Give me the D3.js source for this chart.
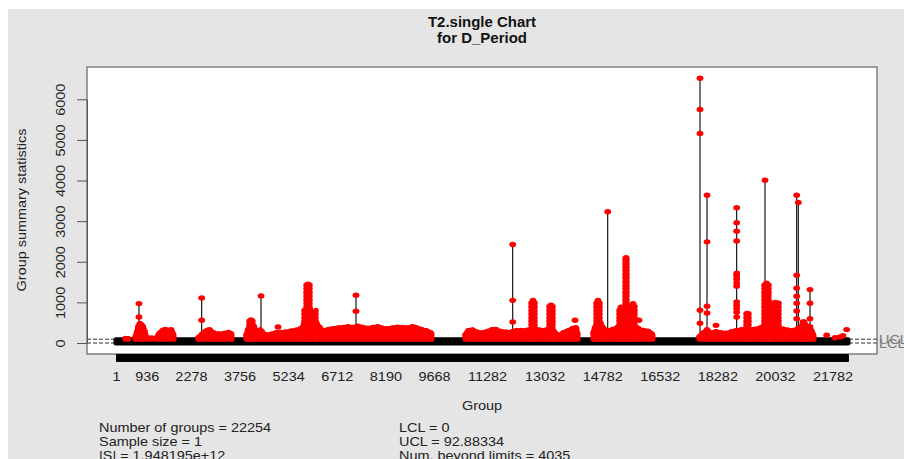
<!DOCTYPE html>
<html><head><meta charset="utf-8">
<script src="https://cdn.jsdelivr.net/npm/d3@7"></script>
<style>
body{margin:0;background:#fff}
svg{display:block}
text{font-family:"Liberation Sans",Arial,Helvetica,sans-serif}
</style>
</head><body>
<svg id="chart" width="904" height="459"></svg>
<script>
// ---------------- data ----------------
const nGroups = 22254;
const ucl = 92.88334;
const lcl = 0;
const titleLines = ["T2.single Chart", "for D_Period"];
const xTickLabels = [1, 936, 2278, 3756, 5234, 6712, 8190, 9668, 11282, 13032, 14782, 16532, 18282, 20032, 21782];
const yTicks = [0, 1000, 2000, 3000, 4000, 5000, 6000];
const statsLeft = ["Number of groups = 22254", "Sample size = 1", "|S| = 1.948195e+12"];
const statsRight = ["LCL = 0", "UCL = 92.88334", "Num. beyond limits = 4035"];

// in-control statistics (black): group range and value band
const inControlGroups = [1, 22254];
const inControlLow = [0, 0];
const inControlHigh = [80, 80];

// upper envelope of dense out-of-control runs (null = gap)
const envGroups = [280, 390, null,
  579, 639, 700, 761, 822, 913, null,
  1004, 1095, null,
  1217, 1308, 1399, 1490, 1582, 1673, 1764, null,
  2494, 2585, 2707, 2828, 2950, 3102, 3254, 3406, 3527, null,
  3953, 4014, 4105, 4196, 4287, 4378, 4500, 4622, 4774, 4926, 5078, 5230, 5382, 5534, 5655, 5747, 5838, 5929, 6020, 6111, 6203, 6324, 6446, 6598, 6750, 6902, 7054, 7206, 7358, 7510, 7662, 7814, 7966, 8118, 8270, 8422, 8574, 8726, 8878, 9030, 9182, 9334, 9486, 9607, null,
  10611, 10702, 10823, 10975, 11127, 11279, 11431, 11523, 11644, 11796, 11948, 12100, 12252, 12404, 12556, 12708, 12860, 13012, 13164, 13286, 13407, null,
  13468, 13590, 13742, 13864, 13985, 14046, null,
  14502, 14593, 14715, 14836, 14958, 15079, 15201, 15323, 15444, 15566, 15687, 15809, 15930, 16082, 16204, 16325, null,
  17724, 17846, 17967, 18089, 18241, 18393, 18545, 18697, 18849, 19001, 19153, 19305, 19457, 19609, 19761, 19913, 20065, 20217, 20369, 20521, 20642, 20795, 20916, 21038, 21160, 21221];
const envValues = [110, 110, null,
  150, 300, 480, 470, 420, 200, null,
  120, 130, null,
  120, 230, 300, 340, 310, 330, 180, null,
  130, 200, 280, 330, 260, 220, 230, 260, 230, null,
  200, 350, 450, 420, 250, 330, 230, 200, 230, 260, 260, 280, 300, 330, 380, 550, 700, 700, 600, 480, 380, 300, 330, 350, 370, 380, 400, 380, 410, 380, 360, 380, 400, 360, 350, 370, 390, 380, 370, 400, 360, 320, 290, 230, null,
  200, 300, 320, 270, 250, 280, 330, 340, 300, 270, 260, 290, 310, 300, 330, 350, 320, 300, 350, 300, 220, null,
  180, 250, 300, 350, 380, 200, null,
  250, 450, 500, 350, 300, 330, 360, 450, 500, 500, 450, 400, 330, 300, 280, 200, null,
  150, 250, 300, 250, 280, 250, 240, 270, 300, 320, 350, 330, 340, 380, 450, 450, 420, 350, 330, 300, 320, 380, 400, 350, 300, 150];

// narrow columns of stacked out-of-control points
const stackFrom = [4044, 5777, 5716, 12617, 13164, 14593, 15292, 15475, 15657, 19153, 19700, 19944, 20855];
const stackTo   = [4166, 5899, 6081, 12739, 13286, 14715, 15414, 15536, 15779, 19244, 19852, 20156, 20977];
const stackTop  = [570, 1445, 820, 1050, 930, 1050, 880, 2100, 970, 730, 1470, 1000, 520];

// isolated spikes: group and the values of the points along them
const spikeGroups = [700, 2606, 4409, 7297, 12061, 14949, 17755, 17968, 18870, 19731, 20694, 20743, 21099];
const spikeDots = [
  [970, 640],
  [1110, 560],
  [1160],
  [1175, 780],
  [2425, 1050, 520],
  [3230],
  [6520, 5750, 5160, 805, 485, 150],
  [3640, 2490, 905, 740, 330],
  [3330, 2960, 2750, 2510, 1720, 1650, 1570, 1480, 1400, 1010, 930, 850, 760, 640],
  [4010],
  [3640, 1670, 1350, 1150, 980, 790, 600],
  [3460],
  [1315, 980, 600, 400]
];

// other isolated out-of-control points
const extraGroups = [4926, 13955, 15900, 18241, 20886, 21606, 21859, 22011, 22102, 22214];
const extraValues = [395, 560, 560, 435, 520, 190, 130, 150, 180, 330];

// ---------------- drawing ----------------
const W = 904, H = 459;
const box = {left: 87, right: 877, top: 67, bottom: 354};
const svg = d3.select("#chart");
const SX = 1.07; // horizontal stretch of the original raster text
const red = "#ff0000";

svg.append("rect").attr("width", W).attr("height", H).attr("fill", "#ffffff");
svg.append("rect").attr("x", 8).attr("y", 9).attr("width", W - 8).attr("height", H - 9).attr("fill", "#e5e5e5");

const x = d3.scaleLinear().domain([1, nGroups]).range([116, 848]);
const y = d3.scaleLinear().domain([0, 6000]).range([343.0, 99.3]);

function sText(g, str, tx, ty, opts) {
  const t = g.append("text").attr("transform", `translate(${tx},${ty}) scale(${SX},1)`).text(str);
  for (const k in opts) t.attr(k, opts[k]);
  return t;
}

// titles
titleLines.forEach((s, i) => sText(svg, s, 482, 27 + i * 16, {"text-anchor": "middle", "font-weight": "bold", "font-size": "14px", "fill": "#111"}));

// plot area
svg.append("rect").attr("x", box.left).attr("y", box.top).attr("width", box.right - box.left).attr("height", box.bottom - box.top)
  .attr("fill", "#ffffff");

const plot = svg.append("g");

// control limits (dashed)
[ucl, lcl].forEach(v => {
  plot.append("line").attr("x1", box.left).attr("x2", box.right).attr("y1", y(v)).attr("y2", y(v))
    .attr("stroke", "#333").attr("stroke-width", 1).attr("stroke-dasharray", "4,2");
});

// in-control band (black)
const inData = inControlGroups.map((g, i) => ({g, lo: inControlLow[i], hi: inControlHigh[i]}));
plot.append("path").datum(inData)
  .attr("d", d3.area().x(d => x(d.g)).y0(d => y(d.lo)).y1(d => y(d.hi)))
  .attr("fill", "#000").attr("stroke", "#000").attr("stroke-width", 5).attr("stroke-linejoin", "round");

// spike lines
spikeGroups.forEach((g, i) => {
  plot.append("line").attr("x1", x(g)).attr("x2", x(g)).attr("y1", y(ucl)).attr("y2", y(d3.max(spikeDots[i])))
    .attr("stroke", "#000").attr("stroke-width", 1.1);
});

// dense red runs
const envData = envGroups.map((g, i) => ({g, v: envValues[i]}));
plot.append("path").datum(envData)
  .attr("d", d3.area().defined(d => d.v != null).x(d => x(d.g)).y0(y(ucl)).y1(d => y(d.v)).curve(d3.curveMonotoneX))
  .attr("fill", red).attr("stroke", red).attr("stroke-width", 5).attr("stroke-linejoin", "round");
// scalloped (dotty) top edge
plot.append("path").datum(envData)
  .attr("d", d3.line().defined(d => d.v != null).x(d => x(d.g)).y(d => y(d.v)).curve(d3.curveMonotoneX))
  .attr("fill", "none").attr("stroke", red).attr("stroke-width", 5.5).attr("stroke-linecap", "round")
  .attr("stroke-dasharray", "0,5");

// stacked columns: filled core plus dotted edges
stackFrom.forEach((g, i) => {
  const x0 = x(g), x1 = x(stackTo[i]);
  const yt = y(stackTop[i]), yb = y(ucl);
  plot.append("rect").attr("x", x0).attr("width", Math.max(0.5, x1 - x0))
    .attr("y", yt).attr("height", yb - yt).attr("fill", red);
  [x0, x1].forEach(xx => {
    plot.append("line").attr("x1", xx).attr("x2", xx).attr("y1", yb).attr("y2", yt)
      .attr("stroke", red).attr("stroke-width", 5.5).attr("stroke-linecap", "round")
      .attr("stroke-dasharray", "0,3.6");
  });
});

// points
const pts = [];
spikeGroups.forEach((g, i) => spikeDots[i].forEach(v => pts.push({g, v})));
extraGroups.forEach((g, i) => pts.push({g, v: extraValues[i]}));
stackFrom.forEach((g, i) => pts.push({g: (g + stackTo[i]) / 2, v: stackTop[i]}));
plot.selectAll("ellipse.pt").data(pts).enter().append("ellipse")
  .attr("cx", d => x(d.g)).attr("cy", d => y(d.v)).attr("rx", 3.4).attr("ry", 2.7).attr("fill", red);

// box
svg.append("rect").attr("x", box.left).attr("y", box.top).attr("width", box.right - box.left).attr("height", box.bottom - box.top)
  .attr("fill", "none").attr("stroke", "#6e6e6e").attr("stroke-width", 1.3);

// y axis
const yAxis = svg.append("g").attr("transform", `translate(${box.left},0)`)
  .call(d3.axisLeft(y).tickValues(yTicks).tickSize(10).tickSizeOuter(0).tickFormat(d3.format("d")));
yAxis.select(".domain").attr("stroke", "#555");
yAxis.selectAll(".tick line").attr("stroke", "#555");
yAxis.selectAll(".tick text").attr("x", 0).attr("y", -22).attr("dy", 0)
  .attr("transform", `rotate(-90) scale(${SX},1)`).attr("text-anchor", "middle")
  .attr("font-size", "13.5px").attr("fill", "#222").attr("font-family", '"Liberation Sans",Arial,sans-serif');

// x axis: one tick per few groups gives the solid band
const xBand = svg.append("g").attr("transform", `translate(0,${box.bottom + 0.5})`)
  .call(d3.axisBottom(x).tickValues(d3.range(1, nGroups + 1, 6)).tickSize(7).tickSizeOuter(0).tickFormat(""));
xBand.select(".domain").remove();
xBand.selectAll(".tick line").attr("stroke", "#000");

const xLab = svg.append("g").attr("transform", `translate(0,${box.bottom})`)
  .call(d3.axisBottom(x).tickValues(xTickLabels).tickSize(0).tickFormat(d3.format("d")));
xLab.select(".domain").remove();
xLab.selectAll(".tick text").attr("y", 27).attr("dy", 0).attr("transform", `scale(${SX},1)`)
  .attr("font-size", "13.5px").attr("fill", "#222").attr("font-family", '"Liberation Sans",Arial,sans-serif');

// limit labels
sText(svg, "UCL", 879, 344, {"font-size": "13.5px", "fill": "#7a7a7a"});
sText(svg, "LCL", 879, 348, {"font-size": "13.5px", "fill": "#7a7a7a"});

// axis titles
sText(svg, "Group", 482, 410, {"text-anchor": "middle", "font-size": "13.5px", "fill": "#222"});
svg.append("text").attr("transform", `translate(26,210) rotate(-90) scale(${SX},1)`).attr("text-anchor", "middle")
  .attr("font-size", "13.5px").attr("fill", "#222").text("Group summary statistics");

// stats
statsLeft.forEach((s, i) => sText(svg, s, 99, 432 + i * 14, {"font-size": "13.5px", "fill": "#222"}));
statsRight.forEach((s, i) => sText(svg, s, 399, 432 + i * 14, {"font-size": "13.5px", "fill": "#222"}));
</script>
</body></html>
